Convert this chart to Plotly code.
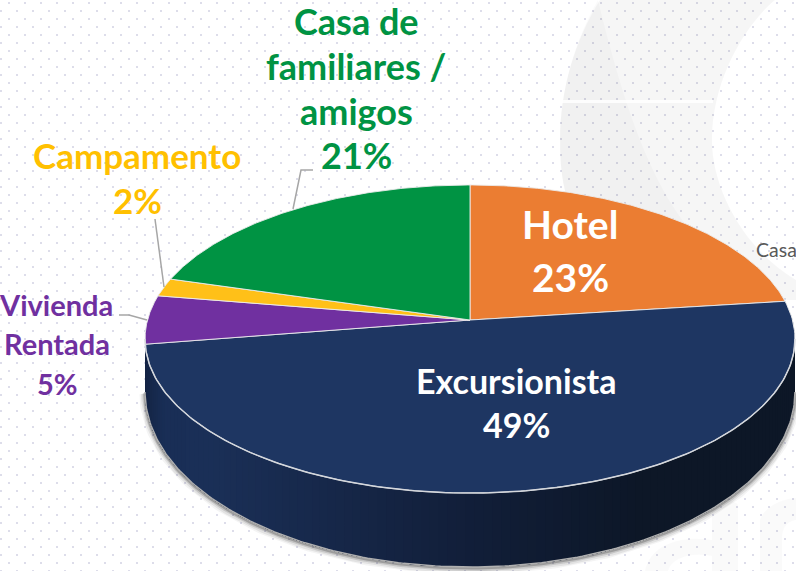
import base64
import numpy as np
import plotly.graph_objects as go

W, H = 796, 571

# Data; slices run clockwise from 12 o'clock
categories = ["Hotel", "Excursionista", "Vivienda Rentada", "Campamento", "Casa de familiares / amigos"]
values = [23.0, 49.5, 5.1, 1.9, 20.5]
percent_labels = ["23%", "49%", "5%", "2%", "21%"]
colors = ["#EB7D32", "#1E3662", "#7030A0", "#FFC018", "#009343"]

# Styling of the tilted pie, in page pixels
APEX_X, APEX_Y = 470, 320
A, B, K = 322.5, 151.7, 0.1234
SIDE_STOPS_X = [145, 165, 210, 470, 650, 796]
SIDE_STOPS_RGB = [(20, 36, 68), (25, 46, 86), (27, 48, 88), (18, 31, 58), (13, 23, 39), (13, 23, 39)]
FONT = "Lato"


def project(theta):
    """Perspective projection of a unit-circle angle onto the page."""
    d = 1 + K * np.cos(theta)
    return APEX_X + A * np.sin(theta) / d, APEX_Y - B * np.cos(theta) / d


def depth(y):
    return 53 + 21 * np.clip((y - 339) / 154, 0, 1)


def lower(theta):
    x, y = project(theta)
    return x, y + depth(y)


fig = go.Figure()

# Front rim (theta runs from the right side round the front to the left side)
t_left = np.arccos(-K)
t_right = 2 * np.pi - t_left
rim = np.linspace(t_left, t_right, 200)
rx, ry = project(rim)
bx, by = lower(rim)

# soft shadow under the rim
for w, a, dy in [(11, 0.05, 2), (8, 0.08, 2), (5, 0.14, 1.5), (3, 0.25, 1)]:
    fig.add_trace(go.Scatter(x=bx, y=by + dy, mode="lines", hoverinfo="skip", showlegend=False,
                             line=dict(color=f"rgba(30,30,30,{a})", width=w)))

# gradient side: each band reaches to the far end and the next one paints over it
strips = np.linspace(t_left, t_right, 120)
for t0 in strips[:-1]:
    tt = np.linspace(t0, t_right, 80)
    x0, y0 = project(tt)
    x1, y1 = lower(tt)
    mx = float(x0[0])
    rgb = [np.interp(mx, SIDE_STOPS_X, [c[i] for c in SIDE_STOPS_RGB]) for i in range(3)]
    col = "rgb(%d,%d,%d)" % tuple(rgb)
    fig.add_trace(go.Scatter(x=np.r_[x0, x1[::-1]], y=np.r_[y0, y1[::-1]], mode="lines", fill="toself",
                             fillcolor=col, line=dict(width=0), hoverinfo="skip", showlegend=False))

# light edge along the lower rim
fig.add_trace(go.Scatter(x=bx, y=by, mode="lines", hoverinfo="skip", showlegend=False,
                         line=dict(color="#B0B0B0", width=1.5)))

# Top face slices
edges = np.r_[0, np.cumsum(values)] / np.sum(values) * 2 * np.pi
for name, pct, col, t0, t1 in zip(categories, percent_labels, colors, edges[:-1], edges[1:]):
    tt = np.linspace(t0, t1, 160)
    x, y = project(tt)
    fig.add_trace(go.Scatter(x=np.r_[APEX_X, x, APEX_X], y=np.r_[APEX_Y, y, APEX_Y], mode="lines", fill="toself",
                             fillcolor=col, line=dict(color="rgba(235,235,235,0.9)", width=1),
                             name=name, text=f"{name} {pct}", hoverinfo="text", showlegend=False))

# light edge along the front of the top face
fig.add_trace(go.Scatter(x=rx, y=ry, mode="lines", hoverinfo="skip", showlegend=False,
                         line=dict(color="#D4D7DC", width=1.5)))


def label(text, x, y, size, color, anchor="center"):
    fig.add_annotation(x=x, y=y, text=text, showarrow=False, xanchor=anchor, yanchor="middle",
                       font=dict(family=FONT, size=size, color=color))


def bold(s):
    return f"<b>{s}</b>"


label(bold(categories[0]), 570, 224, 39, "white")
label(bold(percent_labels[0]), 570, 277, 39, "white")
label(bold(categories[1]), 516, 380, 34, "white")
label(bold(percent_labels[1]), 516, 424, 34, "white")
label(bold("Vivienda"), 56, 304, 29, colors[2])
label(bold("Rentada"), 57, 343, 29, colors[2])
label(bold(percent_labels[2]), 57, 383, 29, colors[2])
label(bold(categories[3]), 137, 155, 35, "#FFC000")
label(bold(percent_labels[3]), 137, 200, 35, "#FFC000")
label(bold("Casa de"), 356, 21, 36, "#009343")
label(bold("familiares /"), 356, 66, 36, "#009343")
label(bold("amigos"), 356, 111, 36, "#009343")
label(bold(percent_labels[4]), 356, 155, 36, "#009343")
label("Casa", 754, 249, 19.5, "#595959", "left")

# Background dot pattern
svg = (
    f'<svg xmlns="http://www.w3.org/2000/svg" width="{W}" height="{H}">'
    '<defs><pattern id="d" width="16" height="16" patternUnits="userSpaceOnUse">'
    '<rect x="8" y="2" width="2" height="2" fill="#DDDDEA"/>'
    '<rect x="0" y="10" width="2" height="2" fill="#DDDDEA"/>'
    '</pattern></defs>'
    f'<rect width="{W}" height="{H}" fill="url(#d)"/></svg>'
)
src = "data:image/svg+xml;base64," + base64.b64encode(svg.encode()).decode()

bg_shapes = [
    # pale swoosh behind the pie
    dict(path="M 600 0 C 575 40 560 90 560 140 C 560 165 562 180 566 195 L 787 300 L 796 300 L 796 280 "
              "C 745 250 712 190 712 140 C 712 80 745 25 775 0 Z",
         fc="rgba(0,0,0,0.035)"),
    # darker wedge of the swoosh
    dict(path="M 598 0 C 575 40 560 90 560 140 C 560 165 562 180 566 195 L 690 230 "
              "C 650 180 625 110 598 0 Z",
         fc="rgba(0,0,0,0.02)"),
    # white band across the swoosh
    dict(path="M 562 100 L 713 100 L 713 103 L 561 103 Z", fc="rgba(255,255,255,0.85)"),
    # faint watermark letters, lower right
    dict(path="M 645 571 C 650 545 680 535 712 540 L 712 505 C 712 500 735 498 738 505 L 738 571 L 712 571 "
              "L 712 556 C 690 552 672 558 668 571 Z",
         fc="rgba(0,0,0,0.018)"),
    dict(path="M 760 571 L 760 520 C 765 505 785 498 796 498 L 796 520 C 785 522 782 530 782 540 L 782 571 Z",
         fc="rgba(0,0,0,0.018)"),
]
shapes = [dict(type="path", path=s["path"], xref="x", yref="y", fillcolor=s["fc"], line=dict(width=0), layer="below")
          for s in bg_shapes]

# Leader lines
for path in ["M 293 209 L 301 170 L 313 170", "M 155 219 L 164 287", "M 119 315 L 129 315 L 147 320"]:
    shapes.append(dict(type="path", path=path, xref="x", yref="y", line=dict(color="#A6A6A6", width=1.5)))

fig.update_layout(
    width=W, height=H, autosize=False,
    margin=dict(l=0, r=0, t=0, b=0),
    paper_bgcolor="white", plot_bgcolor="rgba(0,0,0,0)",
    showlegend=False,
    xaxis=dict(range=[0, W], visible=False, fixedrange=True),
    yaxis=dict(range=[H, 0], visible=False, fixedrange=True),
    shapes=shapes,
    images=[dict(source=src, xref="paper", yref="paper", x=0, y=1, sizex=1, sizey=1,
                 xanchor="left", yanchor="top", sizing="stretch", layer="below")],
)

fig.write_html("out.html", config={"displayModeBar": False},
               post_script="document.documentElement.style.overflow='hidden';"
                           "document.body.style.margin='0';document.body.style.overflow='hidden';")
